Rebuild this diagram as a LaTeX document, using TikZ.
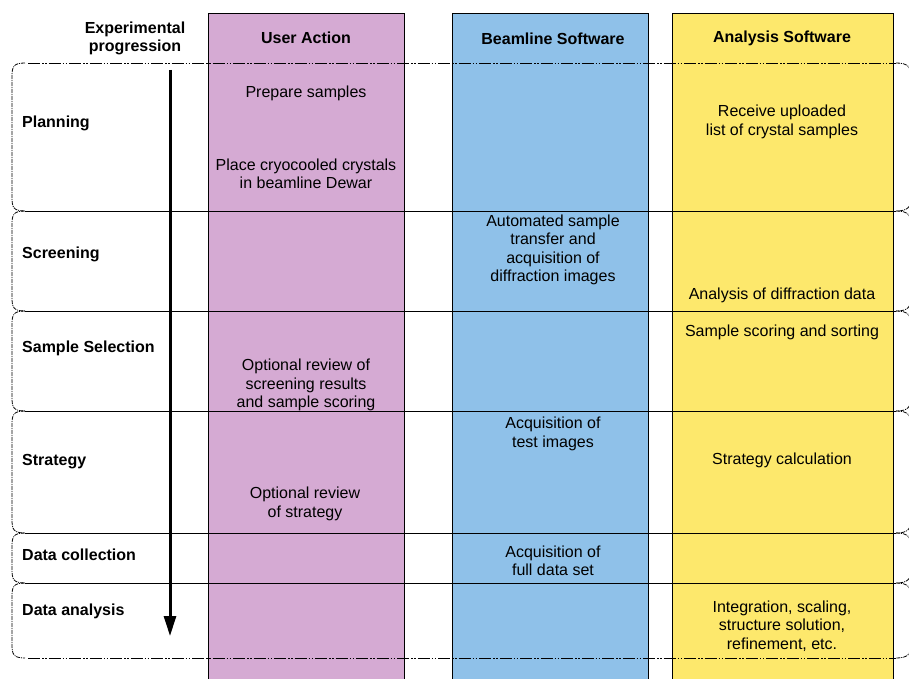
\documentclass[tikz,border=0pt]{standalone}
\usepackage{fontspec}
\setmainfont{Liberation Sans}
\usetikzlibrary{arrows.meta,positioning}
\definecolor{userpurple}{RGB}{213,170,211}
\definecolor{beamblue}{RGB}{143,193,233}
\definecolor{anayellow}{RGB}{253,232,108}
\newcommand\cellfont{\fontsize{16}{18.5}\selectfont}

\begin{document}
\begin{tikzpicture}[x=1pt,y=-1pt,>={Triangle[length=20pt,width=12pt]},
  lane/.style={draw=black,line width=0.9pt,anchor=north west,minimum width=#1,minimum height=700,inner sep=0},
  head/.style={font=\cellfont\bfseries,align=center,inner sep=0,yshift=-1.5pt},
  cell/.style={font=\cellfont,align=center,inner sep=0,yshift=-2pt},
  stage/.style={font=\cellfont\bfseries,anchor=west,inner sep=0,yshift=-2pt},
  rowline/.style={line width=1pt},
  edgeline/.style={line width=0.9pt,dash pattern=on 12pt off 2pt on 1.5pt off 1.5pt on 1.5pt off 2pt},
  bracket/.style={line width=0.8pt,dash pattern=on 4pt off 1pt on 1pt off 1pt}]
  \clip (0,0) rectangle (909,679);

  % swim lanes
  \node[lane=196,fill=userpurple] (userlane) at (208,13) {};
  \node[lane=196,fill=beamblue]   (beamlane) at (452,13) {};
  \node[lane=221,fill=anayellow]  (analane)  at (672,13) {};

  % stage boundaries
  \coordinate (l0) at (28,63);  \coordinate (r0) at (896,63);
  \coordinate (l1) at (25,211); \coordinate (r1) at (896,211);
  \coordinate (l2) at (25,311); \coordinate (r2) at (896,311);
  \coordinate (l3) at (25,411); \coordinate (r3) at (896,411);
  \coordinate (l4) at (25,533); \coordinate (r4) at (896,533);
  \coordinate (l5) at (25,583); \coordinate (r5) at (896,583);
  \coordinate (l6) at (28,658); \coordinate (r6) at (896,658);
  \draw[edgeline] (l0) -- (r0);
  \draw[edgeline] (l6) -- (r6);
  \foreach \i in {1,...,5}
    \draw[rowline] (l\i) -- (r\i);
  \foreach \a/\b in {63/211,211/311,311/411,411/533,533/583,583/658}{
    \draw[bracket] (25,\a) .. controls (13,\a) and (12,\a+4) .. (12,\a+14)
      -- (12,\b-14) .. controls (12,\b-4) and (13,\b) .. (25,\b);
    \draw[bracket] (896,\a) .. controls (908,\a) and (911,\a+4) .. (911,\a+14)
      -- (911,\b-14) .. controls (911,\b-4) and (908,\b) .. (896,\b);
  }

  % progression arrow
  \coordinate (arrtop) at (170,70);
  \coordinate (arrbot) at (170,636);
  \draw[->,line width=3pt] (arrtop) -- (arrbot);

  % headers
  \node[head] (progress) at (135,37) {Experimental\\progression};
  \node[head] (user) at (306,36) {User Action};
  \node[head] (beam) at (553,37) {Beamline Software};
  \node[head] (ana)  at (782,37) {Analysis Software};

  % stages
  \node[stage] (planning)  at (22,121) {Planning};
  \node[stage] (screening) at (22,252) {Screening};
  \node[stage] (selection) at (22,346) {Sample Selection};
  \node[stage] (strategy)  at (22,460) {Strategy};
  \node[stage] (collect)   at (22,553) {Data collection};
  \node[stage] (analysis)  at (22,609) {Data analysis};

  % user actions
  \node[cell] (prepare) at (306,91)  {Prepare samples};
  \node[cell] (place)   at (306,172) {Place cryocooled crystals\\in beamline Dewar};
  \node[cell] (review1) at (306,383) {Optional review of\\screening results\\and sample scoring};
  \node[cell] (review2) at (305,502) {Optional review\\of strategy};

  % beamline software
  \node[cell] (transfer) at (553,248) {Automated sample\\transfer and\\acquisition of\\diffraction images};
  \node[cell] (testimg)  at (553,432) {Acquisition of\\test images};
  \node[cell] (fullset)  at (553,559) {Acquisition of\\full data set};

  % analysis software
  \node[cell] (receive)  at (782,120) {Receive uploaded\\list of crystal samples};
  \node[cell] (diffr)    at (782,293) {Analysis of diffraction data};
  \node[cell] (scoring)  at (782,330) {Sample scoring and sorting};
  \node[cell] (calc)     at (782,458) {Strategy calculation};
  \node[cell] (integr)   at (782,624) {Integration, scaling,\\structure solution,\\refinement, etc.};
\end{tikzpicture}
\end{document}
